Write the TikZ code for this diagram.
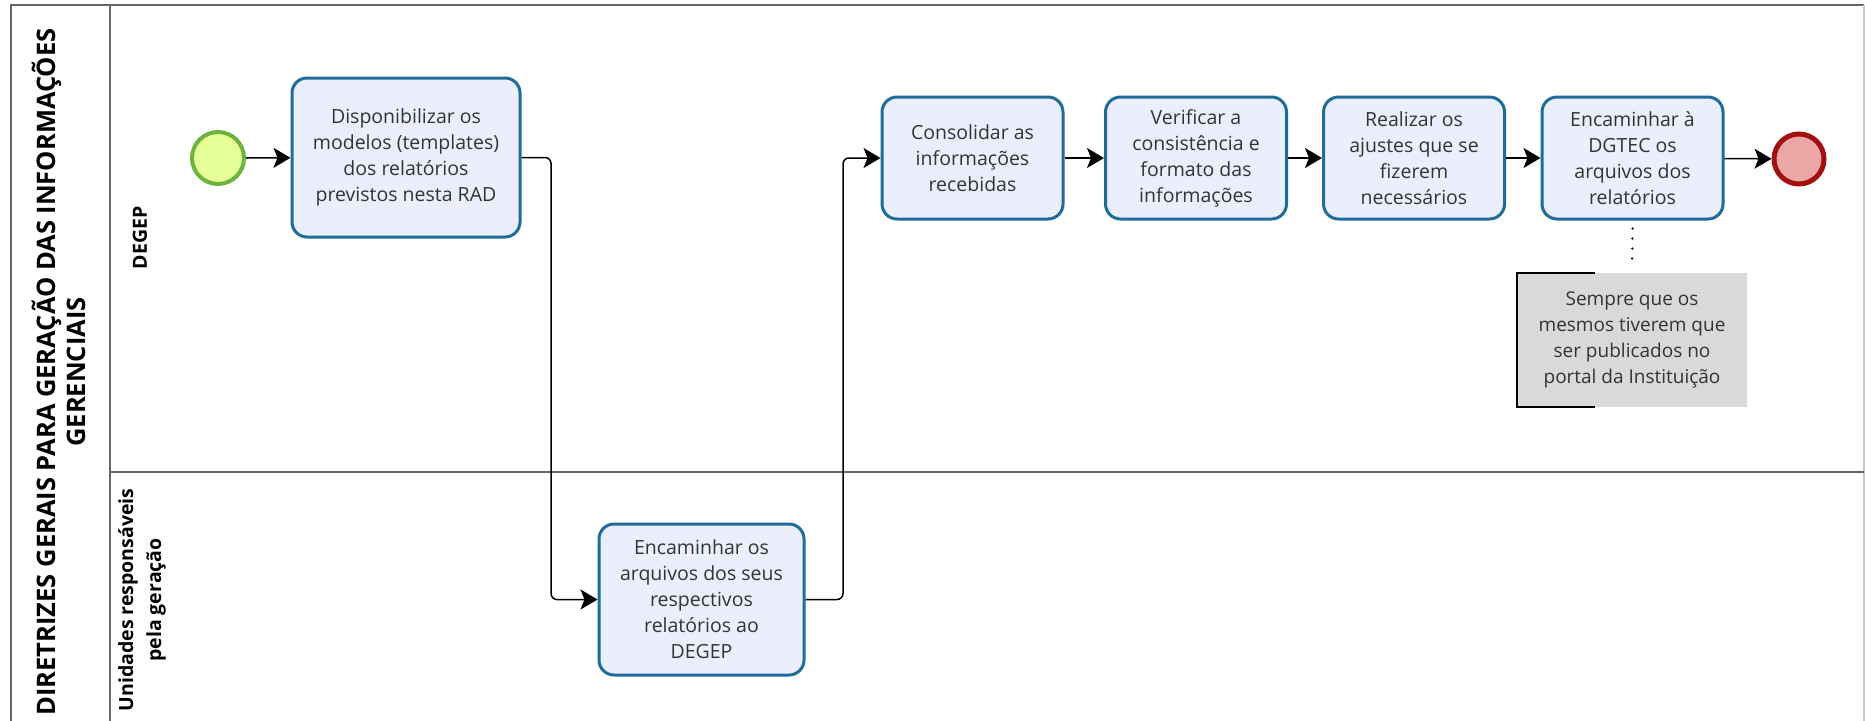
\documentclass[tikz,border=0pt]{standalone}
\usepackage{fontspec}
\setmainfont{Open Sans}
\usetikzlibrary{arrows.meta}
\definecolor{txt}{HTML}{333333}
\definecolor{taskfill}{HTML}{EBEEFD}
\definecolor{taskdraw}{HTML}{1F6C98}
\definecolor{startfill}{HTML}{E6FF97}
\definecolor{startdraw}{HTML}{6DB33F}
\definecolor{endfill}{HTML}{EBA6A6}
\definecolor{enddraw}{HTML}{A20F0F}
\definecolor{notefill}{HTML}{D9D9D9}
\definecolor{poolline}{HTML}{666666}
\definecolor{poolright}{HTML}{C8C8C8}
\begin{document}
\begin{tikzpicture}[x=1pt,y=-1pt,
  task/.style={draw=taskdraw, line width=3pt, fill=taskfill, rounded corners=15pt,
    align=center, text=txt, font=\fontsize{19.5}{26}\selectfont, inner sep=0pt},
  startev/.style={circle, draw=startdraw, line width=4pt, fill=startfill, minimum size=52pt, inner sep=0pt},
  endev/.style={circle, draw=enddraw, line width=5pt, fill=endfill, minimum size=50pt, inner sep=0pt},
  flow/.style={draw=black, line width=1.5pt, -{Stealth[length=17pt,width=20pt,inset=4pt]}, rounded corners=6pt},
  note/.style={fill=notefill, align=center, text=txt, font=\fontsize{19}{26}\selectfont, inner sep=0pt,
    minimum width=230pt, minimum height=134pt},
  lanelabel/.style={rotate=90, align=center, font=\bfseries\fontsize{19.5}{28}\selectfont, text=black},
]
\useasboundingbox (0,0) rectangle (1865,720);
% pool frame
\draw[poolline, line width=2pt] (11,740) -- (11,5) -- (1864,5);
\draw[poolright, line width=1.5pt] (1864,5) -- (1864,740);
\draw[poolline, line width=1.5pt] (110,5) -- (110,740);
\draw[poolline, line width=1.5pt] (110,472) -- (1864,472);
% labels
\node[rotate=90, align=center, font=\bfseries\fontsize{25.5}{30}\selectfont, text=black] (title) at (59,372)
  {DIRETRIZES GERAIS PARA GERAÇÃO DAS INFORMAÇÕES\\GERENCIAIS};
\node[lanelabel] (lane1) at (140,238) {DEGEP};
\node[lanelabel] (lane2) at (142,600) {Unidades responsáveis\\pela geração};
% events
\node[startev] (start) at (218,158) {};
\node[endev] (end) at (1799,159) {};
% tasks
\node[task, minimum width=228pt, minimum height=159pt] (t1) at (406,157.5)
  {Disponibilizar os\\modelos (templates)\\dos relatórios\\previstos nesta RAD};
\node[task, minimum width=205pt, minimum height=151pt] (t2) at (701.5,599.5)
  {Encaminhar os\\arquivos dos seus\\respectivos\\relatórios ao\\DEGEP};
\node[task, minimum width=181pt, minimum height=122pt] (t3) at (972.5,158)
  {Consolidar as\\informações\\recebidas};
\node[task, minimum width=181pt, minimum height=122pt] (t4) at (1196,158)
  {Verificar a\\consistência e\\formato das\\informações};
\node[task, minimum width=181pt, minimum height=122pt] (t5) at (1414,158)
  {Realizar os\\ajustes que se\\fizerem\\necessários};
\node[task, minimum width=181pt, minimum height=122pt] (t6) at (1632.5,158)
  {Encaminhar à\\DGTEC os\\arquivos dos\\relatórios};
% annotation
\node[note] (ann) at (1632,340)
  {Sempre que os\\mesmos tiverem que\\ser publicados no\\portal da Instituição};
\draw[black, line width=1.5pt] ([xshift=78pt]ann.north west) -- (ann.north west) -- (ann.south west) -- ([xshift=78pt]ann.south west);
\draw[black, line width=2.5pt, line cap=round, dash pattern=on 0pt off 10pt] ([yshift=-8pt]t6.south) -- ([yshift=6pt]ann.north);
% flows
\draw[flow] (start) -- (t1);
\draw[flow] (t1.east) -- (551,157.5) -- (551,599.5) -- (t2.west);
\draw[flow] (t2.east) -- (843,599.5) -- (843,158) -- (t3.west);
\draw[flow] (t3) -- (t4);
\draw[flow] (t4) -- (t5);
\draw[flow] (t5) -- (t6);
\draw[flow] (t6) -- (end);
\end{tikzpicture}
\end{document}
